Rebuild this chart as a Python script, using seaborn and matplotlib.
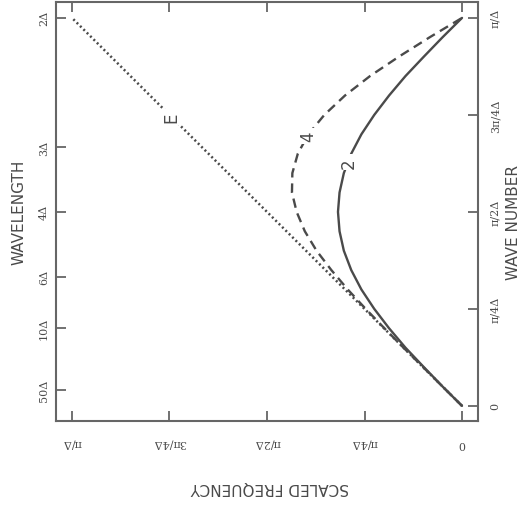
import numpy as np
import pandas as pd
import matplotlib
matplotlib.use("Agg")
import matplotlib.pyplot as plt
import seaborn as sns

# wave number k (units of pi/Delta)
wave_number = [0.0, 0.05, 0.1, 0.15, 0.2, 0.25, 0.3, 0.35, 0.4, 0.45, 0.5,
               0.55, 0.6, 0.65, 0.7, 0.75, 0.8, 0.85, 0.9, 0.95, 1.0]
# scaled frequency (units of pi/Delta)
freq_exact = [0.0, 0.05, 0.1, 0.15, 0.2, 0.25, 0.3, 0.35, 0.4, 0.45, 0.5,
              0.55, 0.6, 0.65, 0.7, 0.75, 0.8, 0.85, 0.9, 0.95, 1.0]
freq_2nd = [0.0, 0.050, 0.098, 0.145, 0.187, 0.225, 0.258, 0.284, 0.303, 0.314, 0.318,
            0.314, 0.303, 0.284, 0.258, 0.225, 0.187, 0.145, 0.098, 0.050, 0.0]
freq_4th = [0.0, 0.050, 0.100, 0.150, 0.199, 0.247, 0.293, 0.335, 0.373, 0.403, 0.424,
            0.436, 0.435, 0.421, 0.394, 0.353, 0.300, 0.236, 0.162, 0.083, 0.0]

freq_ticks = [0.0, 0.25, 0.5, 0.75, 1.0]
freq_labels = ["0", "π/4Δ", "π/2Δ", "3π/4Δ", "π/Δ"]
wave_ticks = [0.0, 0.25, 0.5, 0.75, 1.0]
wave_labels = ["0", "π/4Δ", "π/2Δ", "3π/4Δ", "π/Δ"]
wavelengths = [2, 3, 4, 6, 10, 50]
wavelength_labels = ["2Δ", "3Δ", "4Δ", "6Δ", "10Δ", "50Δ"]

sns.set_style("white")
plt.rcParams['font.family'] = ['DejaVu Sans']
col = "#4a4a4a"

fig = plt.figure(figsize=(5.25, 5.06), dpi=100)
ax = fig.add_axes([56/525, 1-422/506, (478-56)/525, (422-3)/506])

df = pd.DataFrame({"k": wave_number, "E": freq_exact, "two": freq_2nd, "four": freq_4th})
sns.lineplot(data=df, x="E", y="k", sort=False, ax=ax, color=col, lw=1.8,
             linestyle=(0, (0.8, 1.1)), estimator=None)
sns.lineplot(data=df, x="two", y="k", sort=False, ax=ax, color=col, lw=1.7, estimator=None)
sns.lineplot(data=df, x="four", y="k", sort=False, ax=ax, color=col, lw=1.7,
             linestyle=(0, (4, 2.5)), estimator=None)

ax.set_xlim(1.041, -0.041)
ax.set_ylim(-0.039, 1.041)
ax.set_xlabel("")
ax.set_ylabel("")

ax2 = ax.twinx()
ax2.set_ylim(ax.get_ylim())

for s in ax.spines.values():
    s.set_color("#666666")
    s.set_linewidth(1.5)
for s in ax2.spines.values():
    s.set_visible(False)

ax.set_xticks(freq_ticks)
ax.set_xticklabels(freq_labels, rotation=180, fontsize=8, color=col, family="DejaVu Serif")
ax.tick_params(axis="x", direction="in", top=True, bottom=True, length=7, width=1.3,
               color="#666666", pad=12)

ax.yaxis.tick_right()
ax.set_yticks(wave_ticks)
ax.set_yticklabels(wave_labels, rotation=90, va="center", fontsize=8, color=col,
                   family="DejaVu Serif")
ax.tick_params(axis="y", direction="in", left=False, right=True, labelleft=False,
               labelright=True, length=7, width=1.3, color="#666666", pad=9)

ax2.yaxis.tick_left()
ax2.set_yticks([2.0 / L for L in wavelengths])
ax2.set_yticklabels(wavelength_labels, rotation=90, va="center", fontsize=8, color=col,
                    family="DejaVu Serif")
ax2.tick_params(axis="y", direction="in", left=True, right=False, labelleft=True,
                labelright=False, length=7, width=1.3, color="#666666", pad=5)

bb = dict(facecolor="white", edgecolor="none", pad=2)
ax.text(0.745, 0.745, "E", rotation=90, fontsize=12, color=col, ha="center", va="center", bbox=bb)
ax.text(0.394, 0.695, "4", rotation=90, fontsize=12, color=col, ha="center", va="center", bbox=bb)
ax.text(0.290, 0.628, "2", rotation=90, fontsize=12, color=col, ha="center", va="center", bbox=bb)

fig.text(19/525, 1-212/506, "WAVELENGTH", rotation=90, fontsize=11, color=col,
         ha="center", va="center")
fig.text(513/525, 1-222/506, "WAVE NUMBER", rotation=90, fontsize=11, color=col,
         ha="center", va="center")
fig.text(270/525, 1-488/506, "SCALED FREQUENCY", rotation=180, fontsize=11, color=col,
         ha="center", va="center")

fig.savefig("out.png", dpi=100)
